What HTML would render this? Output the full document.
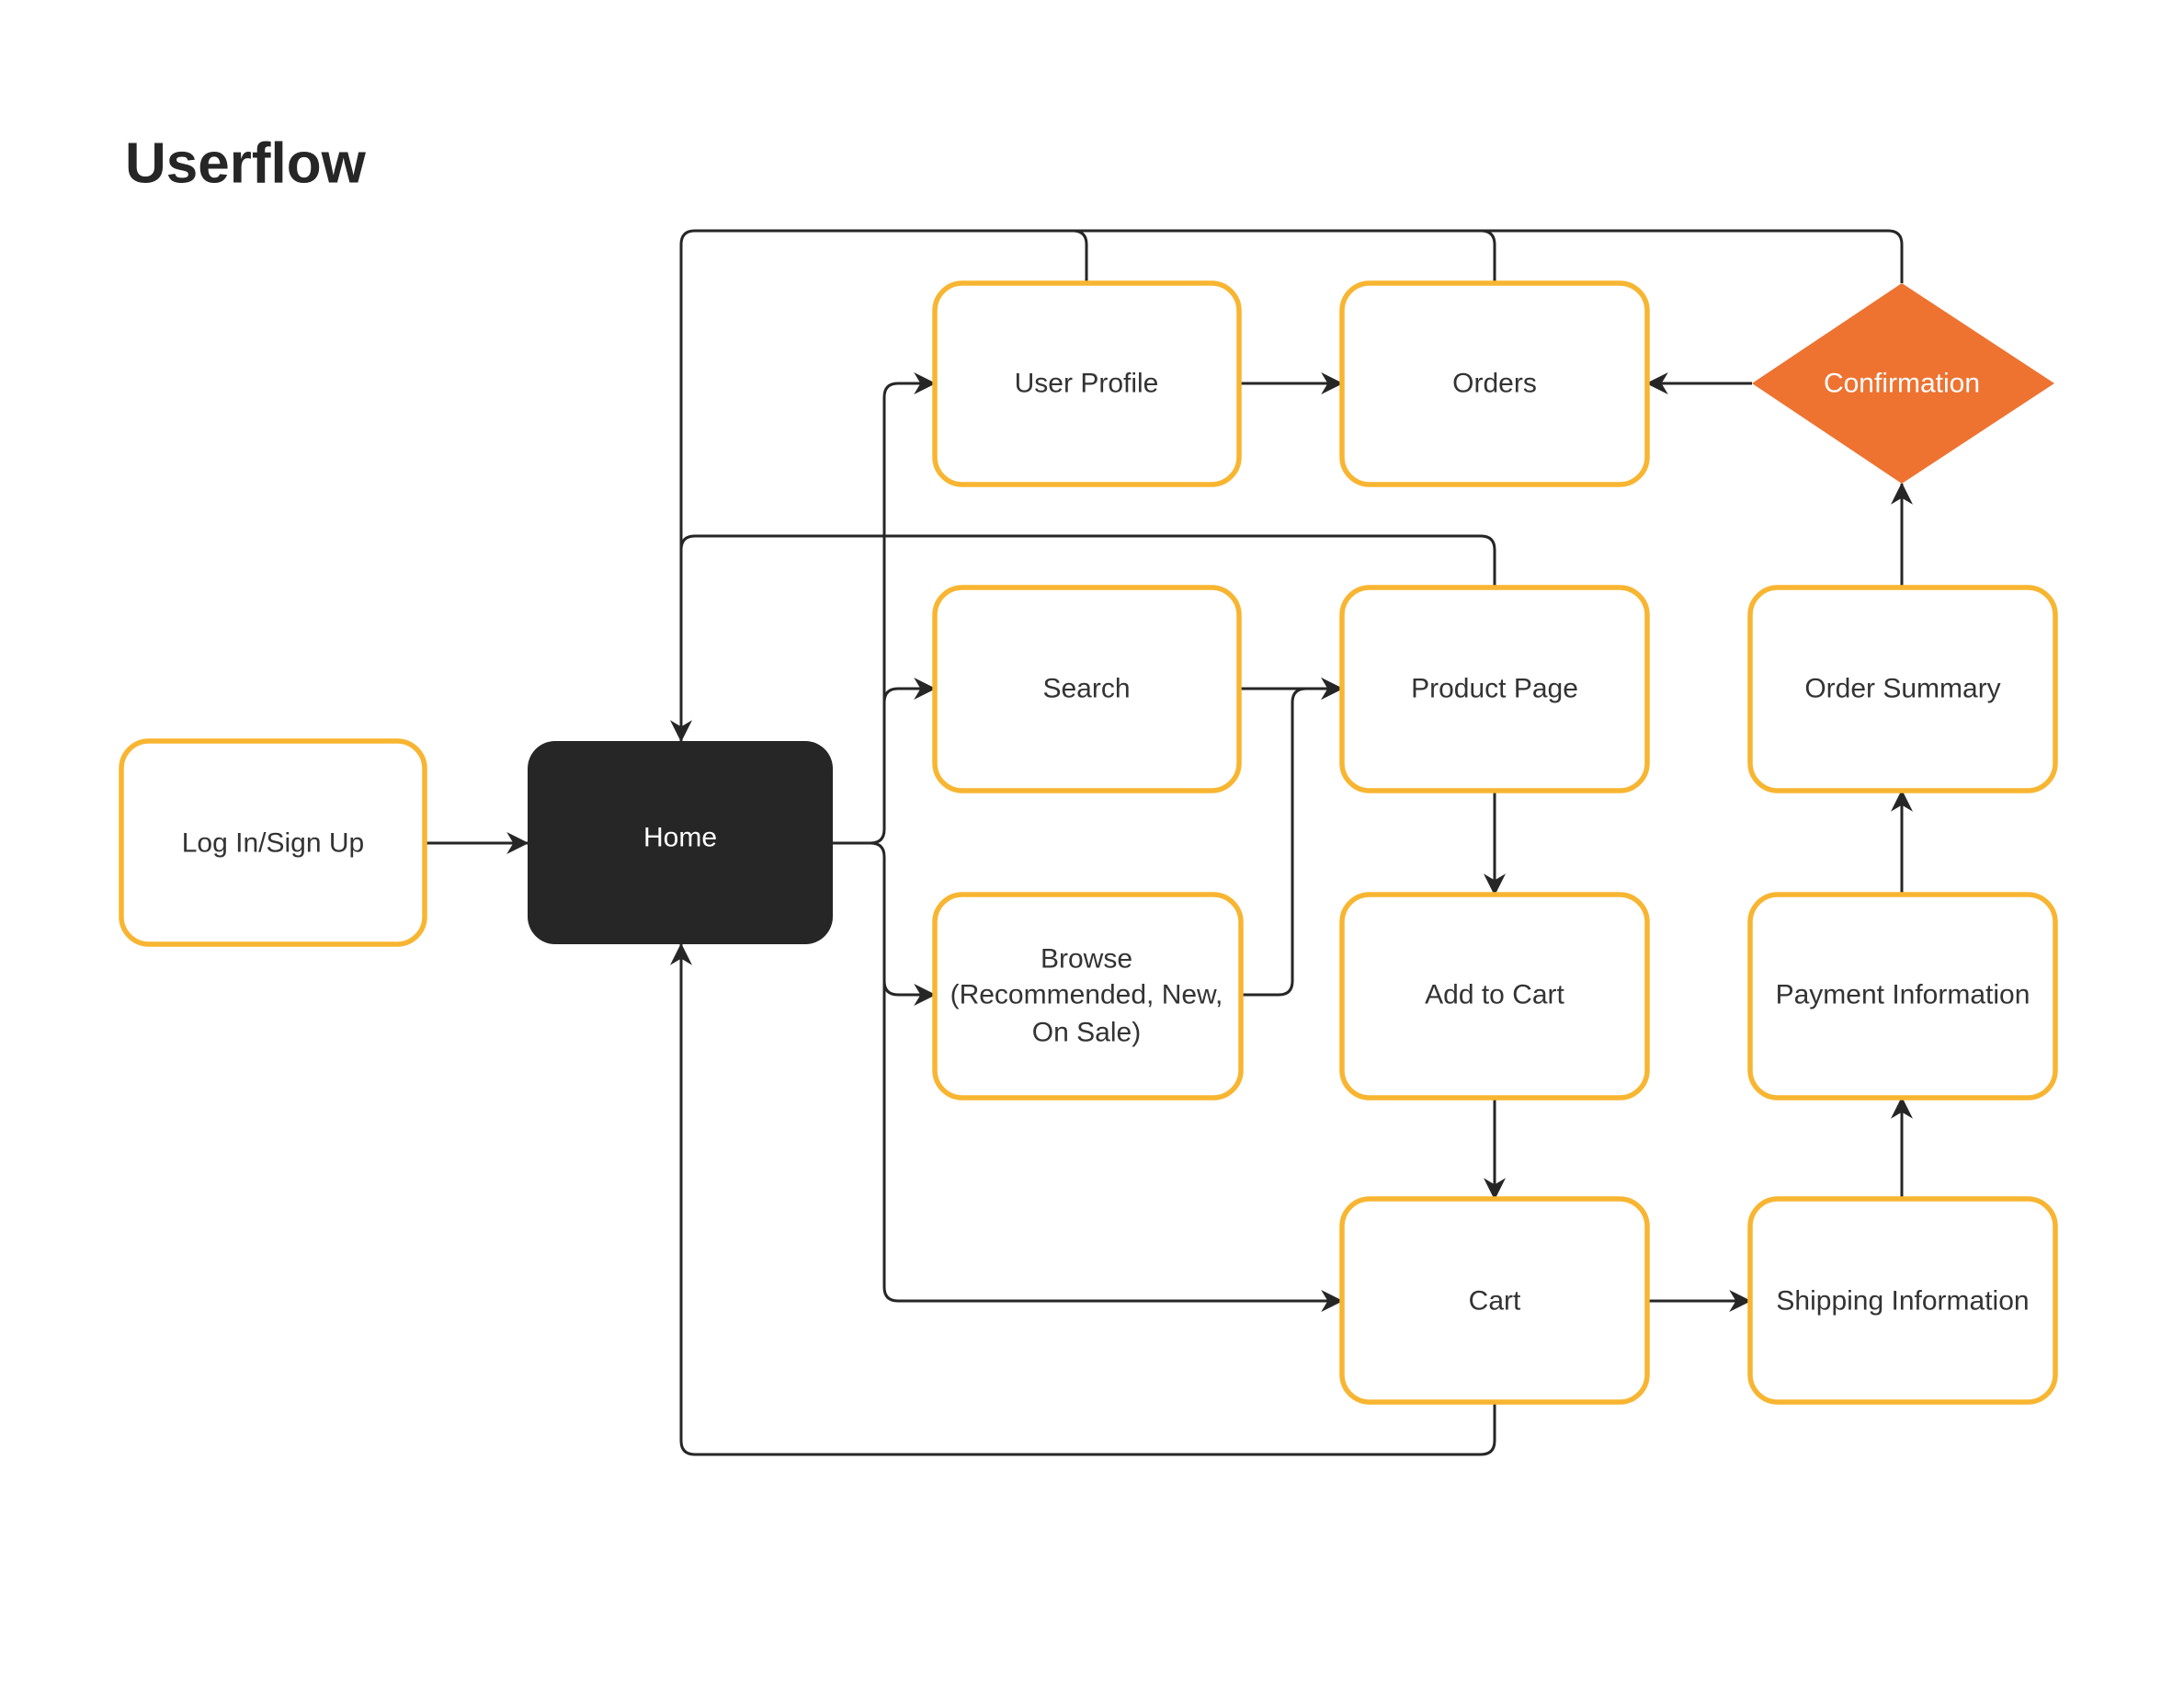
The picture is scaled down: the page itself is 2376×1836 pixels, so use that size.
<!DOCTYPE html>
<html><head><meta charset="utf-8"><style>
html,body{margin:0;padding:0;background:#fff}
svg{display:block}
text{font-family:"Liberation Sans",sans-serif;font-size:30px;fill:#333;text-anchor:middle;dominant-baseline:central}
.b{fill:#fff;stroke:#F8B531;stroke-width:5.5}
.l{fill:none;stroke:#262626;stroke-width:3}
</style></head><body>
<svg width="2376" height="1836" viewBox="0 0 2376 1836" xmlns="http://www.w3.org/2000/svg">
<defs>
<marker id="m" viewBox="0 0 20 20" markerWidth="24" markerHeight="24" refX="19" refY="10" orient="auto" markerUnits="userSpaceOnUse"><path d="M0,0 L20,10 L0,20 L6,10 Z" fill="#262626"/></marker></defs>
<text x="136" y="178" style="font-size:62px;font-weight:bold;fill:#262626;text-anchor:start">Userflow</text>

<!-- connectors -->
<path class="l" d="M1182,308 V266 Q1182,251 1167,251 H756 Q741,251 741,266 V806" marker-end="url(#m)"/>
<path class="l" d="M1626,308 V266 Q1626,251 1611,251"/>
<path class="l" d="M2069,308 V266 Q2069,251 2054,251"/>
<path class="l" d="M756,251 H2054"/>
<path class="l" d="M1626,639 V598 Q1626,583 1611,583 H756 Q741,583 741,598"/>
<path class="l" d="M462,917 H574" marker-end="url(#m)"/>
<path class="l" d="M906,917 H947 Q962,917 962,902 V432 Q962,417 977,417 H1017" marker-end="url(#m)"/>
<path class="l" d="M962,764 Q962,749 977,749 H1017" marker-end="url(#m)"/>
<path class="l" d="M947,917 Q962,917 962,932 V1400 Q962,1415 977,1415 H1460" marker-end="url(#m)"/>
<path class="l" d="M962,1067 Q962,1082 977,1082 H1017" marker-end="url(#m)"/>
<path class="l" d="M1348,417 H1460" marker-end="url(#m)"/>
<path class="l" d="M1348,749 H1460" marker-end="url(#m)"/>
<path class="l" d="M1352,1082 H1391 Q1406,1082 1406,1067 V764 Q1406,749 1421,749 H1460" marker-end="url(#m)"/>
<path class="l" d="M1626,860 V973" marker-end="url(#m)"/>
<path class="l" d="M1626,1194 V1304" marker-end="url(#m)"/>
<path class="l" d="M1792,1415 H1904" marker-end="url(#m)"/>
<path class="l" d="M2069,1304 V1194" marker-end="url(#m)"/>
<path class="l" d="M2069,973 V860" marker-end="url(#m)"/>
<path class="l" d="M2069,639 V526" marker-end="url(#m)"/>
<path class="l" d="M1906,417 H1792" marker-end="url(#m)"/>
<path class="l" d="M1626,1525 V1567 Q1626,1582 1611,1582 H756 Q741,1582 741,1567 V1027" marker-end="url(#m)"/>

<!-- boxes -->
<rect class="b" x="132" y="806" width="330" height="221" rx="30"/>
<text x="297" y="917">Log In/Sign Up</text>
<rect x="574" y="806" width="332" height="221" rx="30" fill="#262626"/>
<text x="740" y="911" style="fill:#fff">Home</text>

<rect class="b" x="1017" y="308" width="331" height="219" rx="30"/><text x="1182" y="417">User Profile</text>
<rect class="b" x="1017" y="639" width="331" height="221" rx="30"/><text x="1182" y="749">Search</text>
<rect class="b" x="1017" y="973" width="333" height="221" rx="30"/>
<text x="1182" y="1043">Browse</text><text x="1182" y="1082">(Recommended, New,</text><text x="1182" y="1123">On Sale)</text>

<rect class="b" x="1460" y="308" width="332" height="219" rx="30"/><text x="1626" y="417">Orders</text>
<rect class="b" x="1460" y="639" width="332" height="221" rx="30"/><text x="1626" y="749">Product Page</text>
<rect class="b" x="1460" y="973" width="332" height="221" rx="30"/><text x="1626" y="1082">Add to Cart</text>
<rect class="b" x="1460" y="1304" width="332" height="221" rx="30"/><text x="1626" y="1415">Cart</text>

<polygon points="2069,308 2235,417 2069,526 1906,417" fill="#EE7331"/>
<text x="2069" y="417" style="fill:#fff">Confirmation</text>
<rect class="b" x="1904" y="639" width="332" height="221" rx="30"/><text x="2070" y="749">Order Summary</text>
<rect class="b" x="1904" y="973" width="332" height="221" rx="30"/><text x="2070" y="1082">Payment Information</text>
<rect class="b" x="1904" y="1304" width="332" height="221" rx="30"/><text x="2070" y="1415">Shipping Information</text>
</svg>
</body></html>
